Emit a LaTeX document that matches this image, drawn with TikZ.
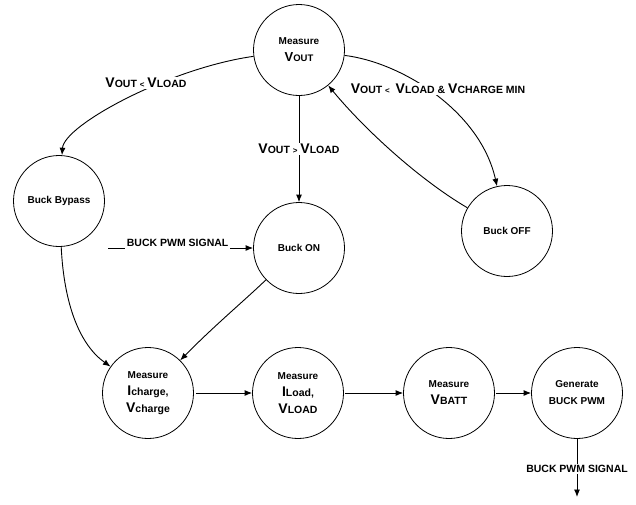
\documentclass[tikz,border=0pt]{standalone}
\usepackage{fontspec}
\setmainfont{Liberation Sans}
\usetikzlibrary{arrows.meta}
\newcommand{\BigLet}[1]{{\fontsize{14}{16}\selectfont #1}}
\newcommand{\MidLet}[1]{{\fontsize{13}{16}\selectfont #1}}
\newcommand{\SmLet}[1]{{\fontsize{8}{9}\selectfont #1}}
\begin{document}
\begin{tikzpicture}[x=1pt,y=-1pt,
  state/.style={circle,draw,line width=0.8pt,minimum size=91pt,inner sep=0pt,align=center,
    font=\bfseries\fontsize{10}{17}\selectfont},
  conn/.style={line width=0.9pt,-{Latex[length=7.5pt,width=6pt]}},
  lbl/.style={fill=white,inner sep=1.5pt,font=\bfseries\fontsize{10.5}{12}\selectfont}]
\useasboundingbox (0,0) rectangle (636,504);

\node[state] (mv)   at (299,50)  {Measure\\\MidLet{V}{\fontsize{9.5}{12}\selectfont OUT}};
\node[state] (bb)   at (59,201)  {Buck Bypass};
\node[state] (bon)  at (299,248) {Buck ON};
\node[state] (boff) at (507,231) {Buck OFF};
\node[state] (mi)   at (148,393) {Measure\\\BigLet{I}{\fontsize{10.5}{12}\selectfont charge,}\\\BigLet{V}{\fontsize{10.5}{12}\selectfont charge}};
\node[state] (ml)   at (298,393) {Measure\\\BigLet{I}{\fontsize{10.5}{12}\selectfont Load,}\\\BigLet{V}{\fontsize{10.5}{12}\selectfont LOAD}};
\node[state] (mb)   at (449,393) {Measure\\\BigLet{V}{\fontsize{10.5}{12}\selectfont BATT}};
\node[state] (gen)  at (577,393) {Generate\\BUCK PWM};

\coordinate (pwmin) at (108,248);
\coordinate (out) at (577,497);

% Measure Vout -> Buck Bypass
\draw[conn] (mv) .. controls (170,68) and (64,125) .. (bb);
\node[lbl] at (146,83) {\BigLet{V}OUT \SmLet{<} \BigLet{V}LOAD};

% Measure Vout -> Buck ON
\draw[conn] (mv) -- (bon) node[lbl,midway] {\BigLet{V}OUT \SmLet{>} \BigLet{V}LOAD};

% Measure Vout -> Buck OFF
\draw[conn] (mv) .. controls (400,62) and (480,110) .. (boff);
% Buck OFF -> Measure Vout
\draw[conn] (boff) .. controls (420,180) and (365,130) .. (mv);
\node[lbl] at (438,89) {\BigLet{V}OUT \SmLet{<}\ \ \BigLet{V}LOAD \& \BigLet{V}CHARGE MIN};

% PWM signal -> Buck ON
\draw[conn] (pwmin) -- (bon)
  node[pos=0.48,anchor=base,yshift=1.5pt,fill=white,inner xsep=1.5pt,inner ysep=2.5pt,
       font=\bfseries\fontsize{10.5}{12}\selectfont] {BUCK PWM SIGNAL};

% Buck Bypass -> Measure Icharge
\draw[conn] (bb) .. controls (64,305) and (80,345) .. (mi);
% Buck ON -> Measure Icharge
\draw[conn] (bon) .. controls (245,300) and (215,325) .. (mi);

% bottom chain
\draw[conn,shorten <=2pt] (mi) -- (ml);
\draw[conn,shorten <=1pt] (ml) -- (mb);
\draw[conn,shorten <=1pt] (mb) -- (gen);
\draw[conn] (gen) -- (out) node[lbl,pos=0.52] {BUCK PWM SIGNAL};
\end{tikzpicture}
\end{document}
